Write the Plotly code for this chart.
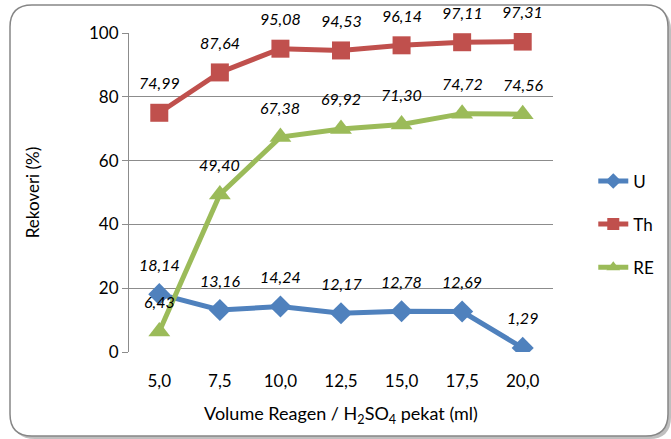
import plotly.graph_objects as go

categories = ["5,0", "7,5", "10,0", "12,5", "15,0", "17,5", "20,0"]
u_vals = [18.14, 13.16, 14.24, 12.17, 12.78, 12.69, 1.29]
th_vals = [74.99, 87.64, 95.08, 94.53, 96.14, 97.11, 97.31]
re_vals = [6.43, 49.40, 67.38, 69.92, 71.30, 74.72, 74.56]
y_ticks = [0, 20, 40, 60, 80, 100]

FONT = "Lato"
series = [
    ("U", u_vals, "#4F81BD", "diamond", 17),
    ("Th", th_vals, "#C0504D", "square", 18),
    ("RE", re_vals, "#9BBB59", "triangle-up", 19),
]

fig = go.Figure()
for i, (name, vals, col, sym, sz) in enumerate(series):
    fig.add_trace(go.Scatter(
        x=categories, y=vals, name=name, mode="lines+markers",
        line=dict(color=col, width=5),
        marker=dict(symbol=sym, size=sz, color=col),
        legendgroup=name,
    ))

def fmt(v):
    return f"{v:.2f}".replace(".", ",")

annotations = []
for name, vals, col, sym, sz in series:
    for c, v in zip(categories, vals):
        annotations.append(dict(
            x=c, y=v, xref="x", yref="y", text=fmt(v), showarrow=False,
            yshift=30, font=dict(family=FONT, size=16, color="#000000", style="italic"),
        ))

# border shape (pixel coordinates relative to plot-area origin)
L, R, T, B, rad = -119, 539, 347, -84, 22
def rrect(l, r, t, b, rr):
    return (f"M {l+rr},{t} L {r-rr},{t} Q {r},{t} {r},{t-rr} L {r},{b+rr} Q {r},{b} {r-rr},{b} "
            f"L {l+rr},{b} Q {l},{b} {l},{b+rr} L {l},{t-rr} Q {l},{t} {l+rr},{t} Z")

shapes = [
    dict(type="path", xref="paper", yref="paper", xsizemode="pixel", ysizemode="pixel",
         xanchor=0, yanchor=0, path=rrect(L + 3, R + 3, T - 3, B - 3, rad),
         line=dict(color="rgba(0,0,0,0)", width=0), fillcolor="#BFBFBF", layer="below"),
    dict(type="path", xref="paper", yref="paper", xsizemode="pixel", ysizemode="pixel",
         xanchor=0, yanchor=0, path=rrect(L, R, T, B, rad),
         line=dict(color="#868686", width=1.5), fillcolor="#FFFFFF", layer="below"),
]

fig.update_layout(
    width=671, height=439,
    margin=dict(l=129, r=114, t=33, b=87),
    paper_bgcolor="#FFFFFF", plot_bgcolor="rgba(0,0,0,0)",
    font=dict(family=FONT, size=17, color="#000000"),
    showlegend=True,
    legend=dict(x=1.095, y=0.40, xanchor="left", yanchor="middle",
                font=dict(family=FONT, size=17), tracegroupgap=18,
                bgcolor="rgba(0,0,0,0)", itemsizing="constant"),
    annotations=annotations,
    shapes=shapes,
)
fig.update_xaxes(
    type="category", range=[-0.5, 6.5], showgrid=False, showline=False,
    ticks="", tickfont=dict(family=FONT, size=17), ticklabelstandoff=17,
    title=dict(text="Volume Reagen / H<sub>2</sub>SO<sub>4</sub> pekat (ml)",
               font=dict(family=FONT, size=18), standoff=17),
)
fig.update_yaxes(
    range=[0, 100], tickvals=y_ticks, showgrid=True, gridcolor="#8C8C8C", gridwidth=1,
    showline=True, linecolor="#8C8C8C", linewidth=1, ticks="outside", ticklen=6,
    tickcolor="#8C8C8C", tickfont=dict(family=FONT, size=17), zeroline=False,
    title=dict(text="Rekoveri (%)", font=dict(family=FONT, size=17), standoff=45),
)

fig.write_html("out.html")
